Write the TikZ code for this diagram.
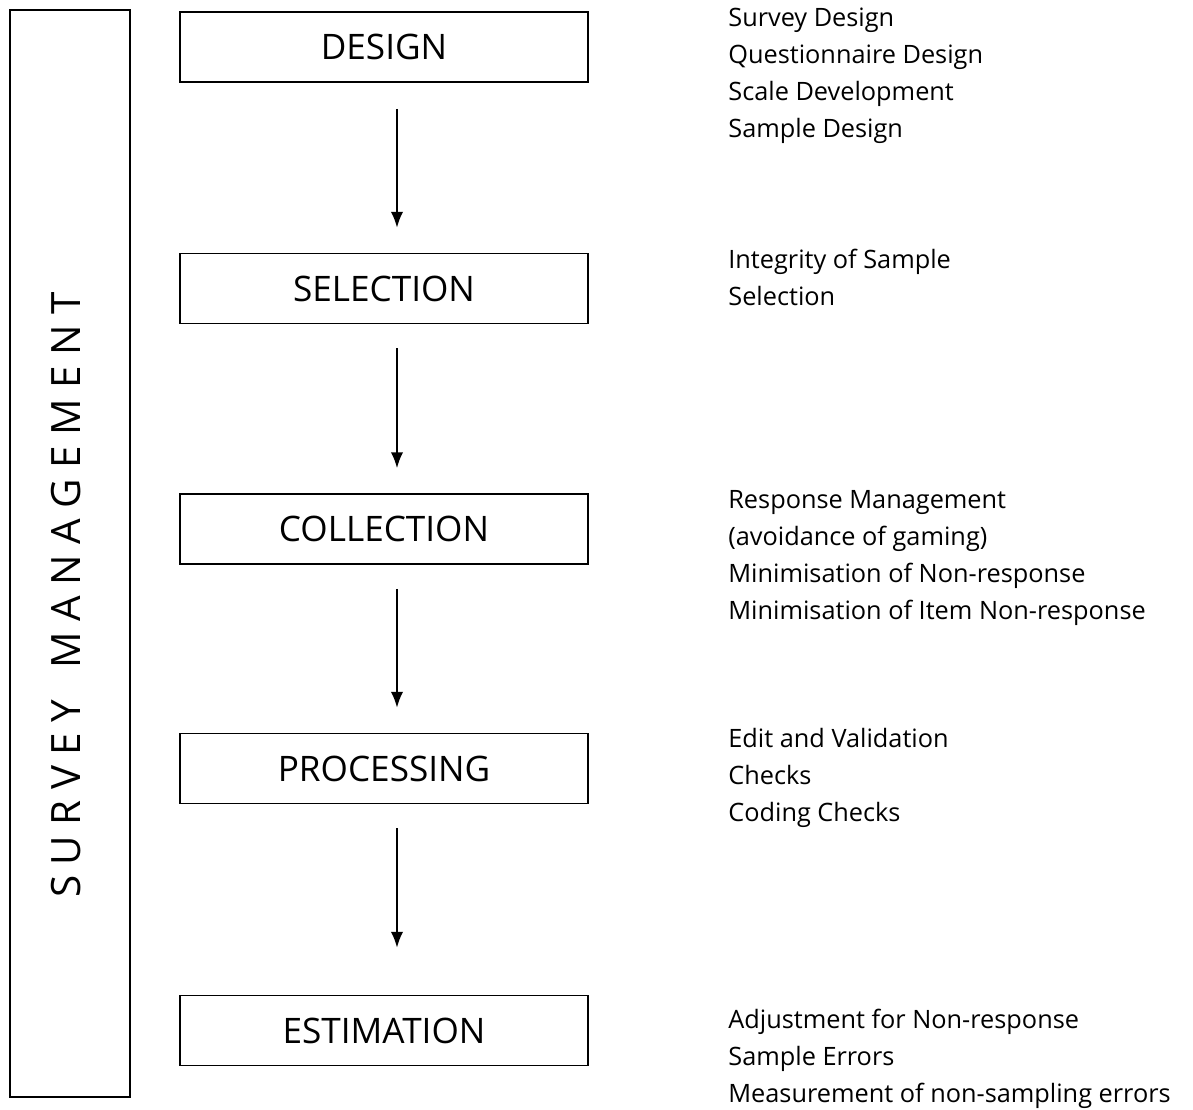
\documentclass[tikz,border=0pt]{standalone}
\usepackage{fontspec}
\setmainfont{Open Sans}
\usetikzlibrary{arrows.meta}

\begin{document}
\begin{tikzpicture}[x=0.02cm,y=-0.02cm]
\tikzset{stage/.style = {shape=rectangle,draw,line width=1pt,minimum width=8.16cm,minimum height=1.4cm,font=\fontsize{20}{24}\selectfont}}
\tikzset{notes/.style = {anchor=base west,align=left,inner sep=0pt,font=\fontsize{14.4}{21}\selectfont}}
\tikzset{flow/.style = {-{Latex[length=9pt,width=7pt]},line width=1pt}}
\useasboundingbox (0,0) rectangle (1193,1109);
%\draw (0,0) rectangle (1193,1109);
\draw[line width=1pt] (10,10) rectangle (130,1097);
\node[rotate=90,font=\fontsize{23}{27}\selectfont] (mgmt) at (66,595) {S U R V E Y \ \ M A N A G E M E N T};
\node[stage] (design) at (384,47) {DESIGN};
\node[stage] (selection) at (384,288.5) {SELECTION};
\node[stage] (collection) at (384,529) {COLLECTION};
\node[stage] (processing) at (384,768.5) {PROCESSING};
\node[stage] (estimation) at (384,1030.5) {ESTIMATION};
\draw[flow,shorten <=0.52cm,shorten >=0.5cm] ([xshift=0.26cm]design.south) -- ([xshift=0.26cm]selection.north);
\draw[flow,shorten <=0.48cm,shorten >=0.5cm] ([xshift=0.26cm]selection.south) -- ([xshift=0.26cm]collection.north);
\draw[flow,shorten <=0.48cm,shorten >=0.5cm] ([xshift=0.26cm]collection.south) -- ([xshift=0.26cm]processing.north);
\draw[flow,shorten <=0.48cm,shorten >=0.94cm] ([xshift=0.26cm]processing.south) -- ([xshift=0.26cm]estimation.north);
% base = last line
\node[notes] (n1) at (728,137) {Survey Design\\Questionnaire Design\\Scale Development\\Sample Design};
\node[notes] (n2) at (728,305) {Integrity of Sample\\Selection};
\node[notes] (n3) at (728,619) {Response Management\\(avoidance of gaming)\\Minimisation of Non-response\\Minimisation of Item Non-response};
\node[notes] (n4) at (728,821) {Edit and Validation\\Checks\\Coding Checks};
\node[notes] (n5) at (728,1102) {Adjustment for Non-response\\Sample Errors\\Measurement of non-sampling errors};
\end{tikzpicture}
\end{document}
